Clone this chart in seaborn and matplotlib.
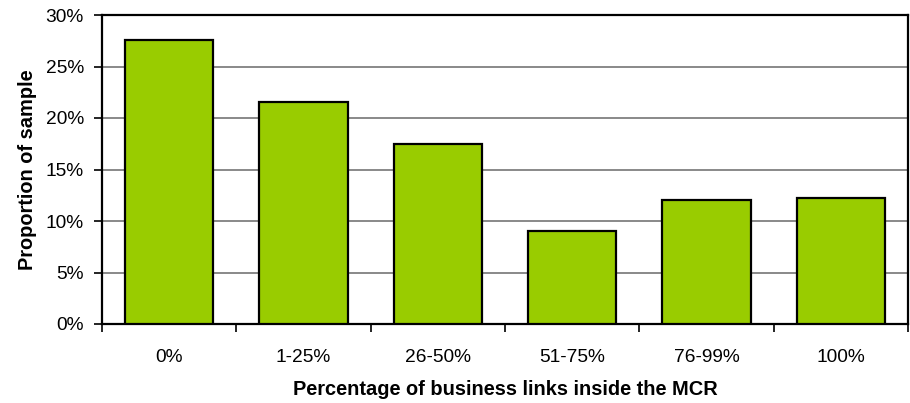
import matplotlib
matplotlib.use("Agg")
import matplotlib.pyplot as plt
import seaborn as sns
import pandas as pd
from matplotlib.ticker import FuncFormatter, MultipleLocator

categories = ["0%", "1-25%", "26-50%", "51-75%", "76-99%", "100%"]
proportions = [27.6, 21.6, 17.5, 9.0, 12.0, 12.2]

df = pd.DataFrame({"links": categories, "share": proportions})

sns.set_style("white")
plt.rcParams["font.family"] = ["Liberation Sans", "DejaVu Sans"]
plt.rcParams["text.color"] = "black"
plt.rcParams["axes.labelcolor"] = "black"
plt.rcParams["xtick.color"] = "black"
plt.rcParams["ytick.color"] = "black"

fig = plt.figure(figsize=(9.10, 4.03), dpi=100)
ax = fig.add_axes([102 / 910, 1 - 324 / 403, 806 / 910, 309 / 403])

sns.barplot(data=df, x="links", y="share", order=categories, color="#99CC00",
            saturation=1, width=0.66, edgecolor="black", linewidth=1.6,
            ax=ax, zorder=3)

ax.set_ylim(0, 30)
ax.set_xlim(-0.5, len(categories) - 0.5)
ax.yaxis.set_major_locator(MultipleLocator(5))
ax.yaxis.set_major_formatter(FuncFormatter(lambda v, p: f"{v:.0f}%"))
ax.yaxis.grid(True, color="#808080", linewidth=1.3, zorder=0)
ax.set_axisbelow(True)

# category ticks sit on the boundaries between bars
ax.set_xticks([i - 0.5 for i in range(len(categories) + 1)], minor=False)
ax.set_xticklabels([])
ax.set_xticks(range(len(categories)), minor=True)
ax.set_xticklabels(categories, minor=True)
ax.tick_params(axis="x", which="major", direction="out", length=6, width=1.2,
               color="black", bottom=True)
ax.tick_params(axis="x", which="minor", length=0, pad=18, labelsize=13.8,
               labelcolor="black")
ax.tick_params(axis="y", direction="out", length=6, width=1.2, color="black",
               left=True, labelsize=13.8, pad=7, labelcolor="black")

for s in ax.spines.values():
    s.set_visible(True)
    s.set_color("black")
    s.set_linewidth(1.6)

ax.set_xlabel("Percentage of business links inside the MCR", fontsize=14.4,
              fontweight="bold", labelpad=10, color="black")
ax.set_ylabel("Proportion of sample", fontsize=14.4, fontweight="bold",
              labelpad=6, color="black")

fig.savefig("out.png", dpi=100)
